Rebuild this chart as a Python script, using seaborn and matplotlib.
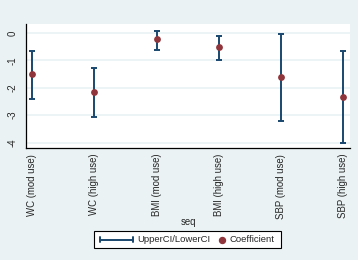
import numpy as np
import pandas as pd
import matplotlib
matplotlib.use("Agg")
import matplotlib.pyplot as plt
import seaborn as sns
from matplotlib.lines import Line2D
from matplotlib.patches import Rectangle

# data
seq = ["WC (mod use)", "WC (high use)", "BMI (mod use)",
       "BMI (high use)", "SBP (mod use)", "SBP (high use)"]
coef = [-1.50, -2.15, -0.23, -0.51, -1.62, -2.32]
upper = [-0.65, -1.27, 0.08, -0.11, -0.04, -0.66]
lower = [-2.40, -3.06, -0.61, -1.00, -3.20, -4.00]

df = pd.DataFrame({"seq": seq, "coef": coef, "upper": upper, "lower": lower})
df["pos"] = np.arange(len(df))

sns.set_style("white")
plt.rcParams["font.family"] = ["Liberation Sans", "DejaVu Sans"]

bg = "#eaf2f3"
navy = "#1a476f"
maroon = "#90353b"
W, H = 358, 260

fig = plt.figure(figsize=(3.58, 2.60), dpi=100, facecolor=bg)
ax = fig.add_axes([26 / W, 1 - 147.5 / H, 324 / W, 123.5 / H])
ax.set_facecolor("white")

# confidence intervals
ax.errorbar(df["pos"], df["coef"],
            yerr=[df["coef"] - df["lower"], df["upper"] - df["coef"]],
            fmt="none", ecolor=navy, elinewidth=1.4, capsize=2, capthick=1.4,
            zorder=2)
sns.scatterplot(data=df, x="pos", y="coef", color=maroon, s=24,
                edgecolor=maroon, linewidth=0, ax=ax, zorder=3)

ax.set_xlim(-0.1, 5.11)
ax.set_ylim(-4.18, 0.33)
ax.set_yticks([0, -1, -2, -3, -4])
ax.set_yticklabels(["0", "-1", "-2", "-3", "-4"], rotation=90, va="center")
ax.set_xticks(df["pos"])
ax.set_xticklabels(df["seq"], rotation=90)
ax.tick_params(axis="both", labelsize=6.9, length=3, width=0.8,
               color="black", direction="out")
ax.tick_params(axis="x", pad=1.5)
ax.tick_params(axis="y", pad=3)
ax.yaxis.grid(True, color=bg, linewidth=1.2)
ax.set_axisbelow(True)

for s in ["top", "right"]:
    ax.spines[s].set_visible(False)
for s in ["left", "bottom"]:
    ax.spines[s].set_color("black")
    ax.spines[s].set_linewidth(0.9)

ax.set_xlabel("")
ax.set_ylabel("")


def fx(px):
    return px / W


def fy(py):
    return 1 - py / H


fig.text(fx(188), fy(222), "seq", fontsize=6.9, ha="center", va="center")

# legend box drawn in figure pixels, Stata style
fig.add_artist(Rectangle((fx(94), fy(248)), fx(281) - fx(94), fy(231) - fy(248),
                         transform=fig.transFigure, facecolor="white",
                         edgecolor="black", linewidth=0.8))
ly = 239.5
fig.add_artist(Line2D([fx(100), fx(133)], [fy(ly), fy(ly)], color=navy, lw=1.4,
                      transform=fig.transFigure))
for cx in (100, 133):
    fig.add_artist(Line2D([fx(cx), fx(cx)], [fy(ly - 2.5), fy(ly + 2.5)],
                          color=navy, lw=1.4, transform=fig.transFigure))
fig.text(fx(137), fy(ly), "UpperCI/LowerCI", fontsize=6.8, va="center", ha="left")
fig.add_artist(Line2D([fx(222)], [fy(ly)], color=maroon, lw=0, marker="o",
                      markersize=4.3, transform=fig.transFigure))
fig.text(fx(229), fy(ly), "Coefficient", fontsize=6.8, va="center", ha="left")

fig.savefig("out.png", dpi=100, facecolor=bg)
